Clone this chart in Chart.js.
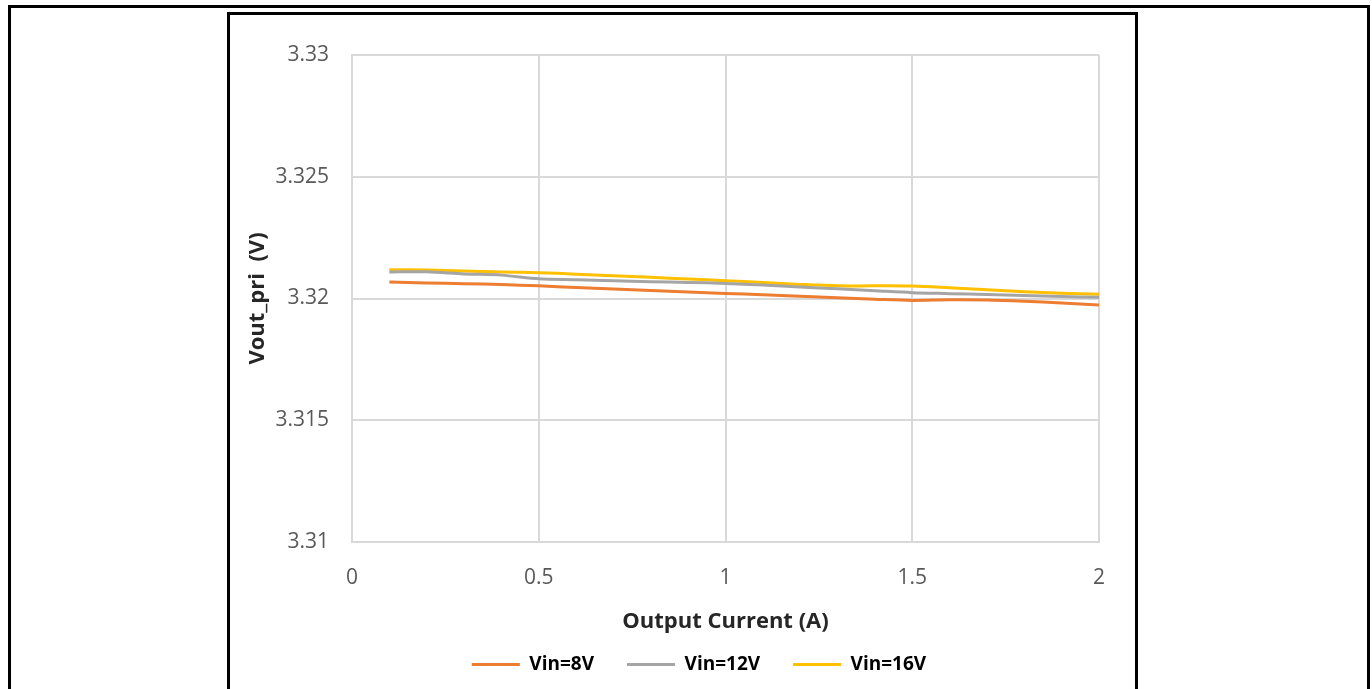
<!DOCTYPE html>
<html>
<head>
<meta charset="utf-8">
<script src="https://cdn.jsdelivr.net/npm/chart.js@4"></script>
<style>
  html, body { margin: 0; padding: 0; background: #fff; overflow: hidden; }
  .outer { position: absolute; left: 8px; top: 5px; width: 1356px; height: 700px;
           border: 3px solid #000; border-bottom: none; }
  .frame { position: absolute; left: 227px; top: 12px; width: 905px; height: 674px;
           border: 3px solid #000; background: #fff; }
  #wrap { position: absolute; left: 230px; top: 15px; width: 938px; height: 669px; }
</style>
</head>
<body>
<div class="outer"></div>
<div class="frame"></div>
<div id="wrap"><canvas id="vout"></canvas></div>
<script>
const current = [0.1, 0.2, 0.3, 0.4, 0.5, 0.6, 0.7, 0.8, 0.9, 1.0,
                 1.1, 1.2, 1.3, 1.4, 1.5, 1.6, 1.7, 1.8, 1.9, 2.0];
const vin8 = [3.32068, 3.32064, 3.32061, 3.32057, 3.32052, 3.32045, 3.32039, 3.32033, 3.32027, 3.32021,
              3.32015, 3.32009, 3.32003, 3.31997, 3.31992, 3.31995, 3.31994, 3.31989, 3.31982, 3.31973];
const vin12 = [3.32109, 3.32110, 3.32101, 3.32096, 3.32081, 3.32077, 3.32073, 3.32069, 3.32066, 3.32062,
               3.32055, 3.32047, 3.32040, 3.32032, 3.32024, 3.32020, 3.32016, 3.32012, 3.32008, 3.32005];
const vin16 = [3.32118, 3.32117, 3.32113, 3.32109, 3.32106, 3.32100, 3.32093, 3.32087, 3.32080, 3.32073,
               3.32066, 3.32058, 3.32052, 3.32052, 3.32051, 3.32044, 3.32036, 3.32028, 3.32022, 3.32017];
const xTicks = [0, 0.5, 1, 1.5, 2];
const yTicks = [3.31, 3.315, 3.32, 3.325, 3.33];

const FONT = '"Open Sans", sans-serif';

function pts(ys) {
    return current.map((x, i) => ({ x: x, y: ys[i] }));
}

function line(label, ys, color) {
    return {
        label: label,
        data: pts(ys),
        borderColor: color,
        backgroundColor: color,
        borderWidth: 3,
        pointRadius: 0,
        tension: 0.3
    };
}

const ctx = document.getElementById('vout').getContext('2d');
new Chart(ctx, {
    type: 'line',
    data: {
        datasets: [
            line('Vin=8V', vin8, '#ED7D31'),
            line('Vin=12V', vin12, '#A5A5A5'),
            line('Vin=16V', vin16, '#FFC000')
        ]
    },
    options: {
        responsive: true,
        maintainAspectRatio: false,
        animation: false,
        layout: { padding: { top: 40, right: 0, bottom: 0, left: 0 } },
        plugins: {
            tooltip: { enabled: false },
            legend: {
                position: 'bottom',
                maxHeight: 69,
                labels: {
                    boxWidth: 48,
                    boxHeight: 3,
                    padding: 33,
                    color: '#000',
                    font: { family: FONT, size: 19, weight: 'bold' },
                    generateLabels: function (chart) {
                        return Chart.defaults.plugins.legend.labels.generateLabels(chart)
                            .map(l => Object.assign(l, { lineWidth: 0 }));
                    }
                }
            }
        },
        scales: {
            x: {
                type: 'linear',
                min: 0,
                max: 2,
                afterBuildTicks: s => { s.ticks = xTicks.map(v => ({ value: v })); },
                afterFit: s => { s.height = 80; },
                grid: { color: '#d9d9d9', lineWidth: 2, drawTicks: false },
                border: { color: '#d9d9d9', width: 2 },
                ticks: {
                    padding: 23,
                    color: '#595959',
                    font: { family: FONT, size: 21 },
                    callback: v => String(v)
                },
                title: {
                    display: true,
                    text: 'Output Current (A)',
                    color: '#262626',
                    padding: { top: 0, bottom: -13 },
                    font: { family: FONT, size: 22, weight: 'bold' }
                }
            },
            y: {
                min: 3.31,
                max: 3.33,
                afterBuildTicks: s => { s.ticks = yTicks.map(v => ({ value: v })); },
                afterFit: s => { s.width = 122; },
                grid: { color: '#d9d9d9', lineWidth: 2, drawTicks: false },
                border: { color: '#d9d9d9', width: 2 },
                ticks: {
                    padding: 23,
                    color: '#595959',
                    font: { family: FONT, size: 21 },
                    callback: v => String(parseFloat(v.toFixed(3)))
                },
                title: {
                    display: true,
                    text: 'Vout_pri  (V)',
                    color: '#262626',
                    padding: { top: 15, bottom: 0 },
                    font: { family: FONT, size: 22, weight: 'bold' }
                }
            },
            // empty right-hand margin so the legend centres like the original
            spacer: {
                position: 'right',
                min: 0,
                max: 1,
                afterFit: s => { s.width = 69; },
                grid: { display: false },
                border: { display: false },
                ticks: { display: false }
            }
        }
    }
});
</script>
</body>
</html>
